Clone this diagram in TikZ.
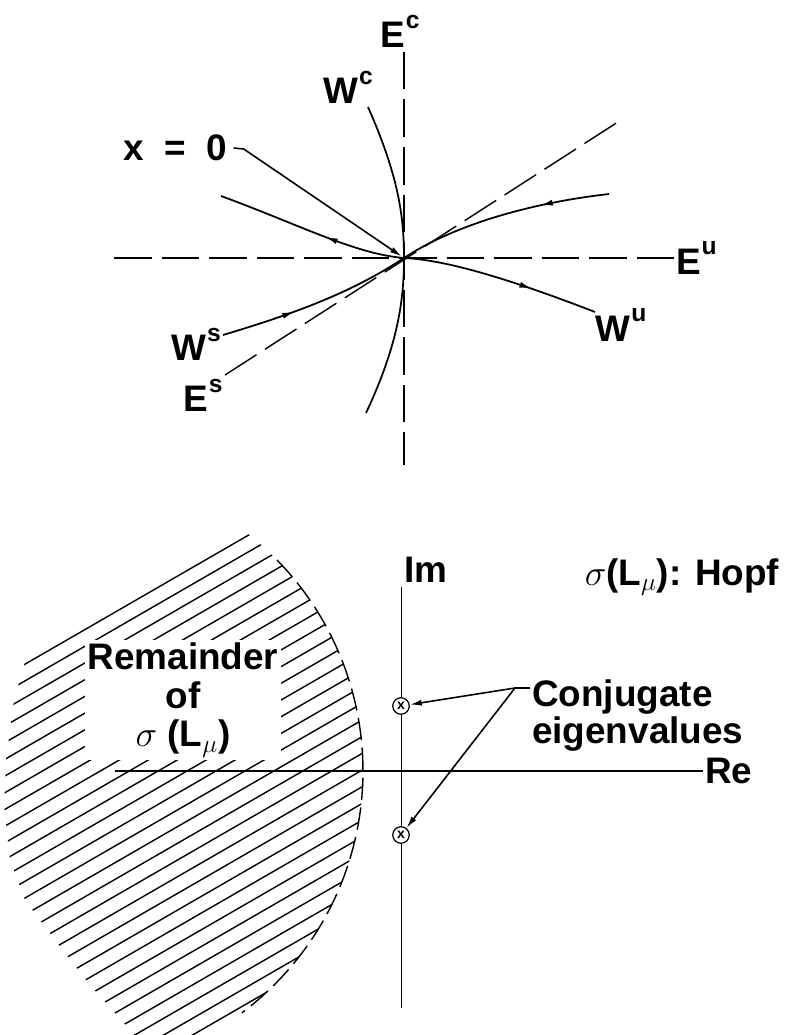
\documentclass[tikz,border=0pt]{standalone}
\usepackage{fontspec}
\setmainfont{Liberation Sans}
\usetikzlibrary{arrows.meta, decorations.markings}
\newcommand{\upidx}[1]{\hspace{0.2mm}\raisebox{0.52em}{\fontsize{14}{14}\selectfont #1}}

\begin{document}
\begin{tikzpicture}[x=0.2mm, y=-0.2mm,
  lbl/.style={font=\fontsize{21}{21}\selectfont\bfseries, inner sep=1pt},
  axdash/.style={line width=0.8pt, dash pattern=on 7.5mm off 2mm},
  arcdash/.style={line width=0.8pt, dash pattern=on 4.5mm off 1.5mm},
  curve/.style={line width=1pt},
  flow/.style={curve, postaction={decorate}, decoration={markings,
    mark=at position #1 with {\arrow{Latex[length=2.4mm, width=1.2mm]}}}},
  leader/.style={line width=0.9pt, -{Latex[length=2.4mm, width=1.2mm]}},
  hatch/.style={line width=0.8pt},
  eig/.style={circle, draw, fill=white, line width=0.7pt, inner sep=0pt,
    minimum size=3.3mm, font=\fontsize{8}{8}\selectfont\bfseries}
]
\useasboundingbox (0,0) rectangle (785,1035);

\coordinate (O) at (404,258);
\coordinate (ectop) at (404,52);
\coordinate (ecbot) at (404,465);
\node[lbl, anchor=south] (ec) at (400,50) {E\upidx{c}};
\draw[axdash] (ectop) -- (ecbot);
\coordinate (euleft) at (114,258);
\node[lbl, anchor=west] (eu) at (674,258) {E\upidx{u}};
\draw[axdash] (euleft) -- (eu.west);
\coordinate (esleft) at (225,375);
\coordinate (esright) at (621,120);
\draw[axdash] (esleft) -- (esright);

\coordinate (wctop) at (368,107);
\coordinate (wcbot) at (366,413);
\draw[curve] (wctop) .. controls (398,175) and (404,215) .. (O)
  .. controls (404,300) and (398,345) .. (wcbot);

\coordinate (wuleft) at (221,196);
\coordinate (wuright) at (595,312);
\draw[flow=0.42] (O) .. controls (355,254) and (300,225) .. (wuleft);
\draw[flow=0.66] (O) .. controls (450,260) and (520,283) .. (wuright);

\coordinate (wsleft) at (223,335);
\coordinate (wsright) at (609,194);
\draw[flow=0.38] (wsleft) .. controls (300,312) and (354,291) .. (O);
\draw[flow=0.32] (wsright) .. controls (530,203) and (454,225) .. (O);

\node[lbl] (wc) at (348,87) {W\upidx{c}};
\node[lbl] (x0) at (175,148) {x\hspace{0.55em}=\hspace{0.55em}0};
\draw[leader, shorten >=1.5pt] ([xshift=1mm]x0.east) -- ++(10,1) -- (O);
\node[lbl] (ws) at (196,344) {W\upidx{s}};
\node[lbl] (es) at (203,395) {E\upidx{s}};
\node[lbl] (wu) at (621,325) {W\upidx{u}};

\begin{scope}
\clip (61,771) circle[radius=302];
\clip (250,470) -- (27,655) -- (14,700) -- (6,760) -- (4,805) -- (10,860)
  -- (25,900) -- (55,940) -- (90,985) -- (130,1030) -- (150,1060)
  -- (420,1060) -- (420,470) -- cycle;
\foreach \k in {0,...,30}
  \draw[hatch] (0,{678.6+16.7*\k}) -- ++(420,-242.5);
\end{scope}
\draw[arcdash] plot[domain=-44.3:53.2, samples=60] ({61+302*cos(\x)}, {771+302*sin(\x)});

\node[lbl, fill=white, align=center, inner sep=1.5pt,
  font=\fontsize{21}{22}\selectfont\bfseries] (rem) at (183,700)
  {Remainder\\of\\$\sigma$ (L$_\mu$)};

\coordinate (realeft) at (115,771);
\node[lbl, anchor=west] (re) at (703,771) {Re};
\draw[line width=0.8pt] (realeft) -- (re.west);

\node[eig] (lamup) at (401,706) {x};
\node[eig] (lamdn) at (401,835) {x};
\coordinate (imtop) at (401,587);
\coordinate (imbot) at (401,1008);
\draw[line width=0.5pt] (imtop) -- (lamup) -- (lamdn) -- (imbot);
\node[lbl, anchor=base] (im) at (426,582) {Im};
\node[lbl, anchor=base] (hopf) at (682,585) {$\sigma$(L$_\mu$): Hopf};

\node[lbl, anchor=north west, align=left,
  font=\fontsize{21}{19.5}\selectfont\bfseries] (conj) at (530,678)
  {Conjugate\\eigenvalues};
\coordinate (fork) at (515,688);
\draw[line width=0.9pt] (conj.west |- fork) -- (fork);
\draw[leader] (fork) -- (lamup);
\draw[leader] (fork) -- (lamdn);
\end{tikzpicture}
\end{document}
